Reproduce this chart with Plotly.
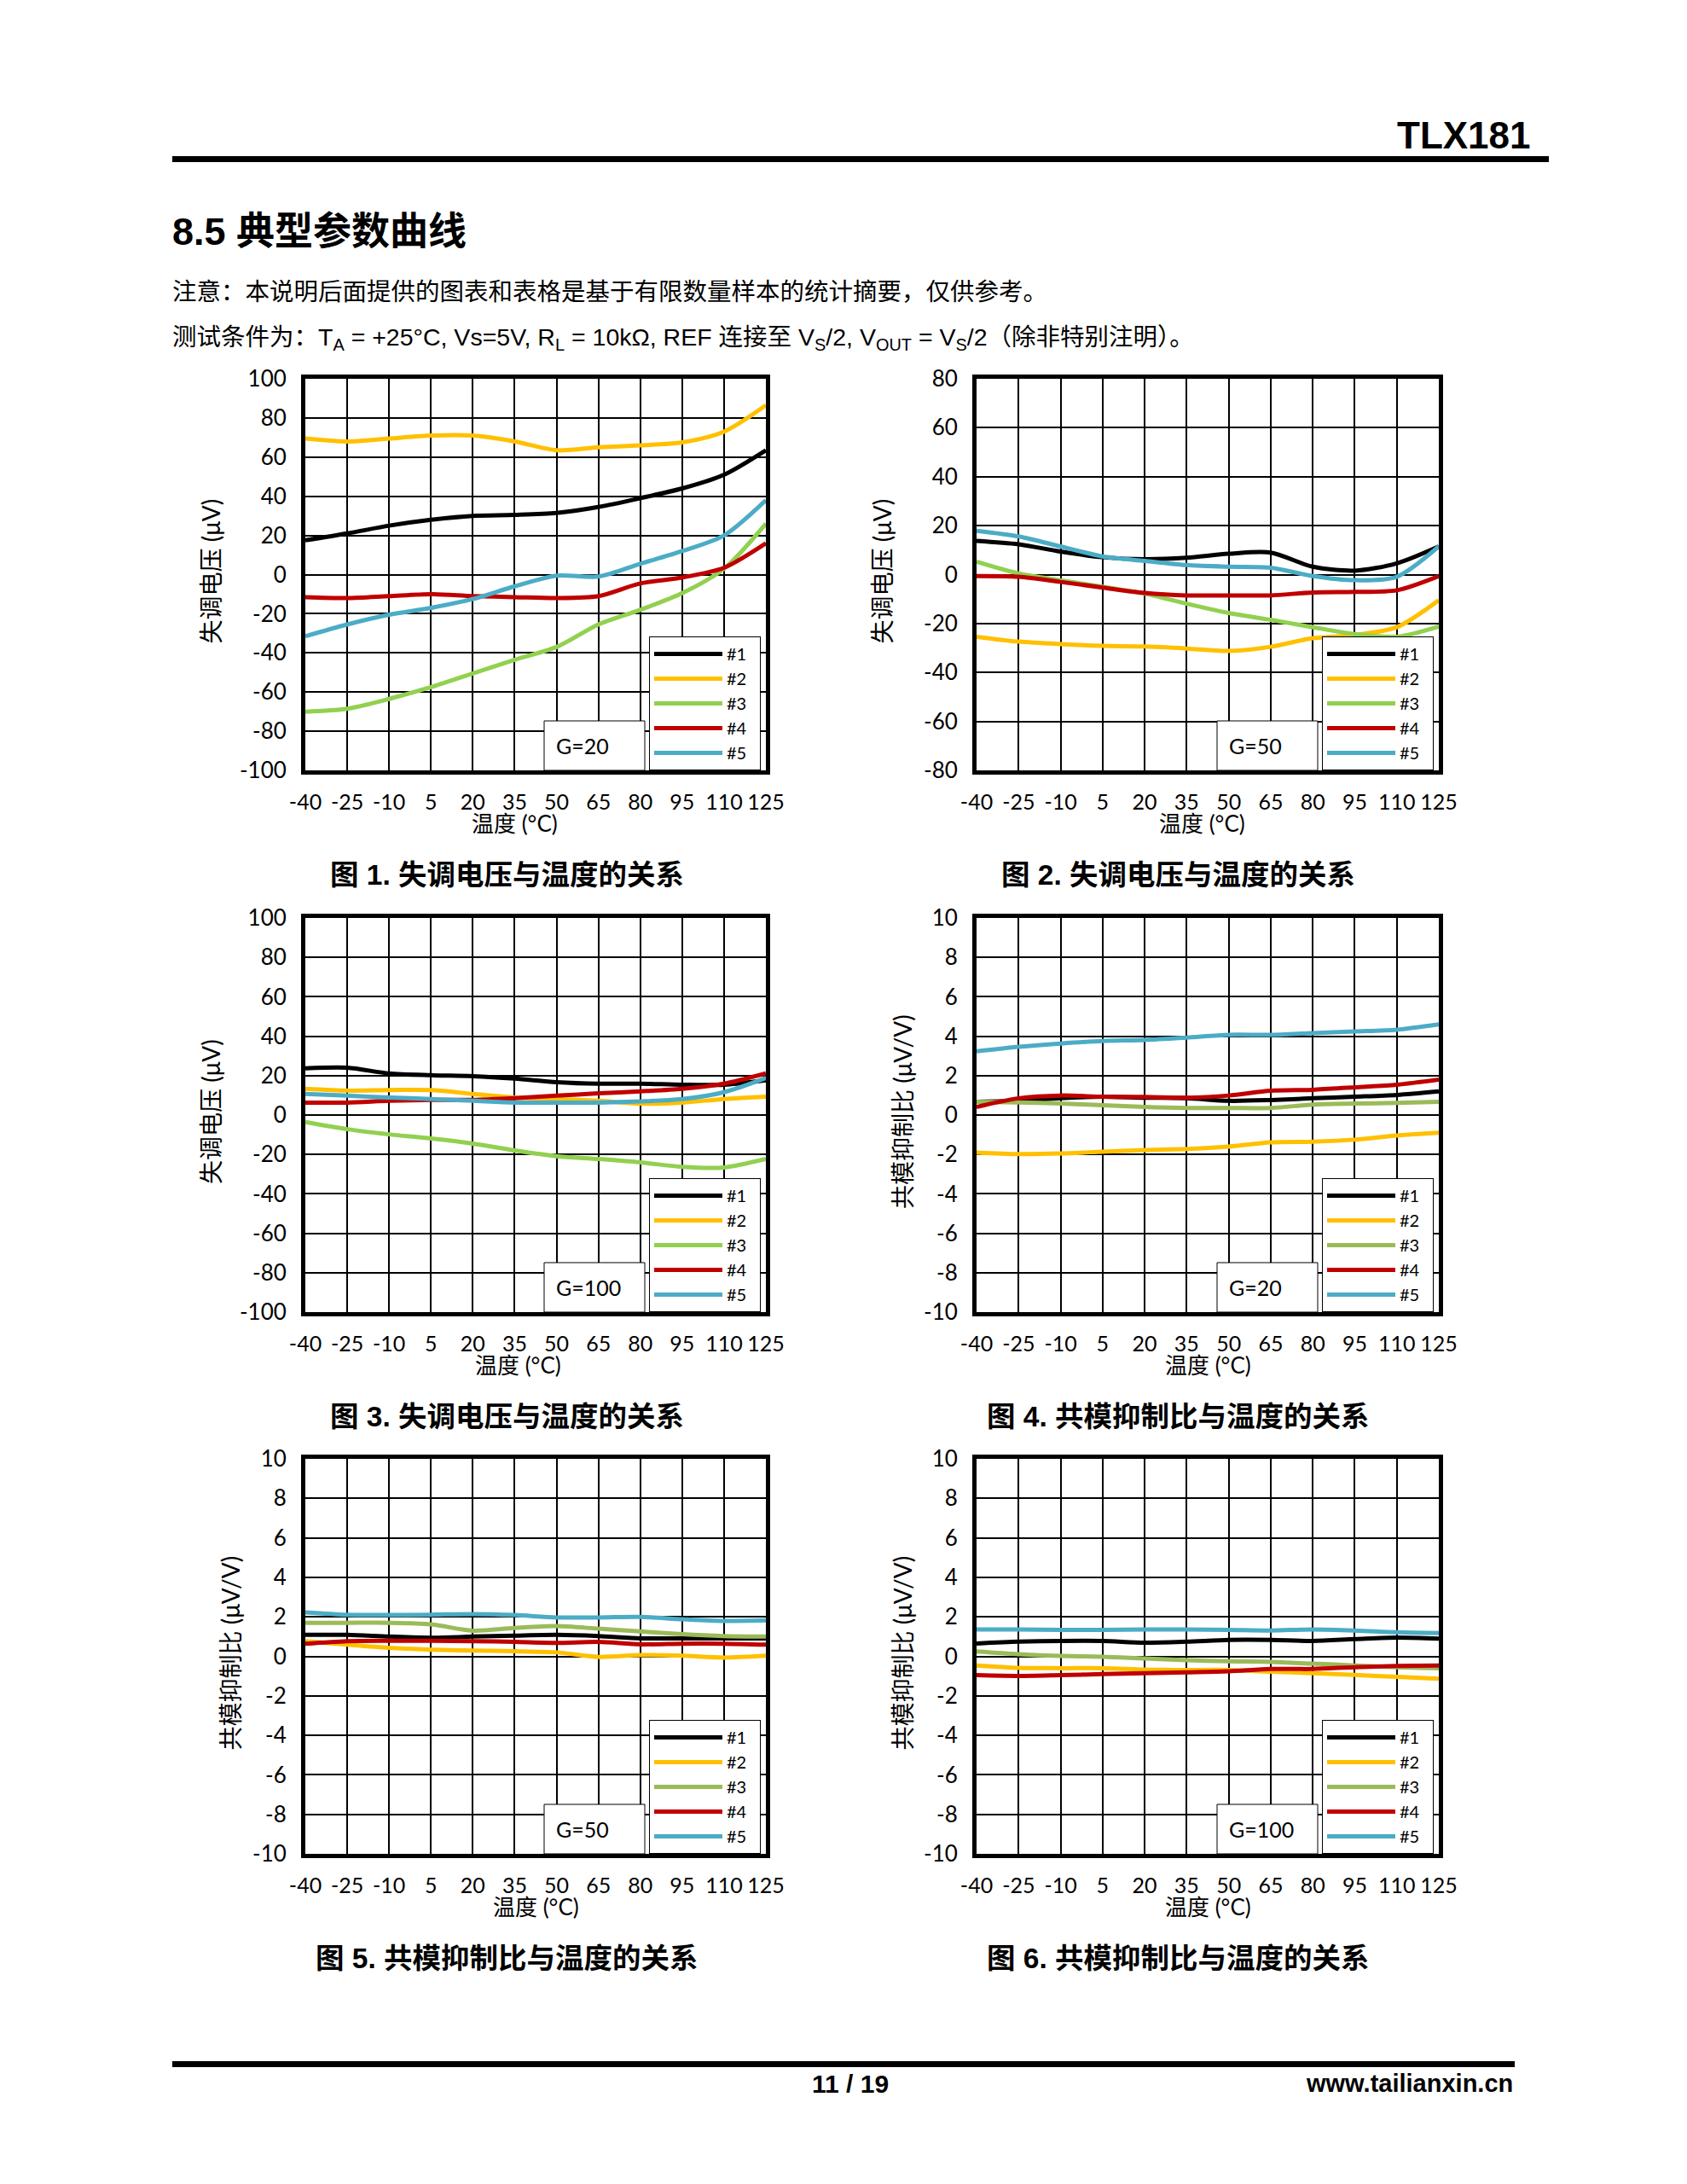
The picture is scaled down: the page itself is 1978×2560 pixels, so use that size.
import plotly.graph_objects as go

# page size of the reference, and the 8px body margin of the html page
W, H = 1978, 2560
OFF = 8
FW, FH = W - 2 * OFF, H - 2 * OFF

# 温度 (°C)
temps = [-40, -25, -10, 5, 20, 35, 50, 65, 80, 95, 110, 125]
samples = ["#1", "#2", "#3", "#4", "#5"]

# 图1 失调电压 G=20 (µV), one list per sample #1..#5
vos_g20 = [
    [17.5, 21, 25, 28, 30, 30.5, 31.5, 34.5, 39, 44, 51, 63.5],
    [69.5, 68, 69.5, 71, 71, 68, 63.5, 65, 66, 67.5, 73, 86.5],
    [-70, -68.5, -63.5, -57.5, -50.5, -43.5, -37, -25.5, -18, -9.5, 3, 26],
    [-11.5, -12, -11, -10, -11, -11.5, -12, -11, -4.5, -1.5, 3.5, 16],
    [-31.5, -25.5, -20.5, -17, -12.5, -6, -0.5, -1, 5.5, 12, 20, 38],
]

# 图2 失调电压 G=50 (µV)
vos_g50 = [
    [13.8, 12.4, 9.4, 7.1, 6.3, 6.9, 8.5, 9, 3.2, 1.6, 4.6, 11.5],
    [-25.4, -27.4, -28.4, -29.1, -29.4, -30.2, -31.2, -29.5, -26, -24.7, -21.5, -10.5],
    [5.3, 0.5, -2.3, -5, -7.8, -11.9, -15.7, -18.5, -21.5, -24.3, -25.4, -21.2],
    [-0.6, -0.9, -3, -5.3, -7.5, -8.5, -8.5, -8.5, -7.3, -7.1, -6.4, -0.6],
    [17.9, 15.6, 11.5, 7.4, 5.6, 3.9, 3.2, 2.8, -0.6, -2.3, -0.9, 11.5],
]

# 图3 失调电压 G=100 (µV)
vos_g100 = [
    [23.7, 24, 21.1, 20.2, 19.7, 18.5, 16.7, 15.9, 15.9, 15.4, 15.4, 17.6],
    [13.3, 12.4, 12.7, 12.7, 10.7, 8.9, 8.1, 7.2, 5.8, 6.3, 8.1, 9.3],
    [-3.6, -7.2, -9.8, -11.9, -14.5, -18, -20.9, -22.3, -24, -26.3, -26.6, -22.3],
    [6.3, 6.3, 7.2, 7.7, 7.7, 8.6, 9.8, 11, 12, 13.3, 15.9, 21.1],
    [10.7, 9.8, 8.9, 8.1, 7.2, 6.3, 6.3, 6.3, 6.9, 8.1, 11.6, 18.8],
]

# 图4 共模抑制比 G=20 (µV/V)
cmrr_g20 = [
    [0.67, 0.72, 0.86, 0.93, 0.88, 0.85, 0.72, 0.76, 0.85, 0.93, 1.02, 1.2],
    [-1.9, -1.98, -1.95, -1.86, -1.77, -1.72, -1.6, -1.39, -1.35, -1.25, -1.04, -0.9],
    [0.67, 0.64, 0.58, 0.5, 0.41, 0.36, 0.36, 0.36, 0.53, 0.58, 0.62, 0.67],
    [0.41, 0.85, 0.99, 0.93, 0.92, 0.88, 0.99, 1.23, 1.28, 1.41, 1.54, 1.8],
    [3.23, 3.46, 3.63, 3.76, 3.81, 3.93, 4.07, 4.07, 4.16, 4.24, 4.33, 4.6],
]

# 图5 共模抑制比 G=50 (µV/V)
cmrr_g50 = [
    [1.09, 1.09, 1.0, 0.94, 1.0, 1.05, 1.09, 1.03, 0.91, 0.91, 0.91, 0.91],
    [0.77, 0.59, 0.43, 0.34, 0.29, 0.26, 0.2, -0.03, 0.06, 0.03, -0.06, 0.03],
    [1.7, 1.7, 1.7, 1.62, 1.3, 1.44, 1.53, 1.4, 1.26, 1.12, 1.03, 1.0],
    [0.64, 0.77, 0.79, 0.79, 0.77, 0.73, 0.68, 0.73, 0.61, 0.64, 0.64, 0.59],
    [2.23, 2.11, 2.09, 2.11, 2.14, 2.09, 1.97, 1.97, 2.0, 1.88, 1.79, 1.82],
]

# 图6 共模抑制比 G=100 (µV/V)
cmrr_g100 = [
    [0.65, 0.74, 0.78, 0.78, 0.69, 0.74, 0.83, 0.83, 0.78, 0.87, 0.95, 0.9],
    [-0.46, -0.58, -0.6, -0.6, -0.67, -0.69, -0.69, -0.78, -0.85, -0.94, -1.04, -1.13],
    [0.25, 0.11, 0.02, -0.02, -0.11, -0.19, -0.25, -0.28, -0.37, -0.46, -0.55, -0.6],
    [-0.95, -0.99, -0.95, -0.9, -0.85, -0.81, -0.76, -0.64, -0.64, -0.55, -0.49, -0.46],
    [1.36, 1.36, 1.34, 1.34, 1.36, 1.36, 1.34, 1.31, 1.36, 1.31, 1.22, 1.18],
]

colors_a = ["#000000", "#FFC000", "#92D050", "#C00000", "#4BACC6"]
colors_b = ["#000000", "#FFC000", "#9BBB59", "#C00000", "#4BACC6"]

LAT = "Lato, Noto Sans CJK SC"
CJK = "Liberation Sans, Noto Sans CJK SC"
NB = "\u00a0"


# page pixel -> paper fraction
def px(x):
    return (x - OFF) / FW


def py(y):
    return 1 - (y - OFF) / FH


# plot boxes in page pixels: left, right, top, bottom
left_col = (358, 898)
right_col = (1145, 1687)
rows = [(444, 903), (1076, 1538), (1710, 2173)]

charts = [
    dict(data=vos_g20, colors=colors_a, rng=(-100, 100), dt=20, gain="G=20",
         ytitle="失调电压 (μV)", caption="图 1. 失调电压与温度的关系",
         col=left_col, row=rows[0], ytx=-111, xtx=-25),
    dict(data=vos_g50, colors=colors_a, rng=(-80, 80), dt=20, gain="G=50",
         ytitle="失调电压 (μV)", caption="图 2. 失调电压与温度的关系",
         col=right_col, row=rows[0], ytx=-111, xtx=-7),
    dict(data=vos_g100, colors=colors_a, rng=(-100, 100), dt=20, gain="G=100",
         ytitle="失调电压 (μV)", caption="图 3. 失调电压与温度的关系",
         col=left_col, row=rows[1], ytx=-111, xtx=-21),
    dict(data=cmrr_g20, colors=colors_b, rng=(-10, 10), dt=2, gain="G=20",
         ytitle="共模抑制比 (μV/V)", caption="图 4. 共模抑制比与温度的关系",
         col=right_col, row=rows[1], ytx=-87, xtx=0),
    dict(data=cmrr_g50, colors=colors_b, rng=(-10, 10), dt=2, gain="G=50",
         ytitle="共模抑制比 (μV/V)", caption="图 5. 共模抑制比与温度的关系",
         col=left_col, row=rows[2], ytx=-89, xtx=0),
    dict(data=cmrr_g100, colors=colors_b, rng=(-10, 10), dt=2, gain="G=100",
         ytitle="共模抑制比 (μV/V)", caption="图 6. 共模抑制比与温度的关系",
         col=right_col, row=rows[2], ytx=-88, xtx=0),
]

fig = go.Figure()
layout = dict(
    width=FW, height=FH, autosize=False,
    margin=dict(l=0, r=0, t=0, b=0, pad=0, autoexpand=False),
    paper_bgcolor="white", plot_bgcolor="white",
    showlegend=True,
)
annotations = []
shapes = []

axis_common = dict(
    showgrid=True, gridcolor="black", gridwidth=2,
    showline=True, linecolor="black", linewidth=5, mirror=True,
    zeroline=False, ticks="", fixedrange=True, automargin=False,
    tickfont=dict(family=LAT, size=25, color="black"),
)

for i, c in enumerate(charts, start=1):
    sfx = "" if i == 1 else str(i)
    (x0, x1), (y0, y1) = c["col"], c["row"]
    lo, hi = c["rng"]
    yticks = list(range(lo, hi + 1, c["dt"]))
    layout["xaxis" + sfx] = dict(
        axis_common, domain=[px(x0), px(x1)], anchor="y" + sfx,
        range=[-40, 125], tickmode="array", tickvals=temps,
        ticktext=[str(t) for t in temps], ticklabelstandoff=11,
    )
    layout["yaxis" + sfx] = dict(
        axis_common, domain=[py(y1), py(y0)], anchor="x" + sfx,
        range=[lo, hi], tickmode="array", tickvals=yticks,
        ticktext=[str(v) for v in yticks], ticklabelstandoff=12,
        tickfont=dict(family=LAT, size=26, color="black"),
    )
    leg = "legend" + sfx
    layout[leg] = dict(
        x=px(x1 - 6), y=py(y1), xanchor="right", yanchor="bottom",
        bgcolor="white", bordercolor="black", borderwidth=1,
        font=dict(family=LAT, size=20, color="black"),
        itemwidth=80, traceorder="normal", tracegroupgap=0,
    )
    for name, ys, col in zip(samples, c["data"], c["colors"]):
        fig.add_trace(go.Scatter(
            x=temps, y=ys, name=name + NB * 2, mode="lines",
            line=dict(color=col, width=5, shape="spline", smoothing=0.8),
            xaxis="x" + sfx, yaxis="y" + sfx, legend=leg, hoverinfo="skip",
        ))

    # gain box left of the legend
    lx = x1 - 6 - 137
    shapes.append(dict(type="rect", xref="paper", yref="paper",
                       x0=px(lx - 117), x1=px(lx + 1), y0=py(y1), y1=py(y1 - 58),
                       line=dict(color="black", width=1), fillcolor="white", layer="above"))
    annotations.append(dict(text=c["gain"], xref="paper", yref="paper",
                            x=px(lx - 105), y=py(y1 - 29), xanchor="left", yanchor="middle",
                            showarrow=False, font=dict(family=LAT, size=25, color="black")))

    # axis titles
    annotations.append(dict(text="温度 (°C)", xref="paper", yref="paper",
                            x=px((x0 + x1) / 2 + c["xtx"]), y=py(y1 + 62),
                            xanchor="center", yanchor="middle", showarrow=False,
                            font=dict(family=LAT, size=26, color="black")))
    annotations.append(dict(text=c["ytitle"], xref="paper", yref="paper",
                            x=px(x0 + c["ytx"]), y=py((y0 + y1) / 2 - 4),
                            xanchor="center", yanchor="middle", textangle=-90,
                            showarrow=False, font=dict(family=LAT, size=28, color="black")))
    # caption
    cx = 594 if x0 < 1000 else 1381
    annotations.append(dict(text="<b>" + c["caption"] + "</b>", xref="paper", yref="paper",
                            x=px(cx), y=py(y1 + 122), xanchor="center", yanchor="middle",
                            showarrow=False, font=dict(family=CJK, size=33.5, color="black")))

# page header / footer
shapes.append(dict(type="rect", xref="paper", yref="paper", x0=px(202), x1=px(1816),
                   y0=py(190), y1=py(183), fillcolor="black", line=dict(width=0)))
shapes.append(dict(type="rect", xref="paper", yref="paper", x0=px(202), x1=px(1776),
                   y0=py(2423), y1=py(2416), fillcolor="black", line=dict(width=0)))

annotations += [
    dict(text="<b>TLX181</b>", x=px(1797), y=py(158), xanchor="right",
         font=dict(family=CJK, size=44, color="black")),
    dict(text="<b>8.5 典型参数曲线</b>", x=px(200), y=py(272), xanchor="left",
         font=dict(family=CJK, size=45, color="black")),
    dict(text="注意：本说明后面提供的图表和表格是基于有限数量样本的统计摘要，仅供参考。",
         x=px(200), y=py(342), xanchor="left",
         font=dict(family=CJK, size=28.5, color="black")),
    dict(text="测试条件为：T<sub>A</sub> = +25°C, Vs=5V, R<sub>L</sub> = 10kΩ, REF 连接至 "
              "V<sub>S</sub>/2, V<sub>OUT</sub> = V<sub>S</sub>/2（除非特别注明）。",
         x=px(200), y=py(397), xanchor="left",
         font=dict(family=CJK, size=28.5, color="black")),
    dict(text="<b>11 / 19</b>", x=px(997), y=py(2442), xanchor="center",
         font=dict(family=CJK, size=30, color="black")),
    dict(text="<b>www.tailianxin.cn</b>", x=px(1776), y=py(2442), xanchor="right",
         font=dict(family=CJK, size=29, color="black")),
]
for a in annotations[-6:]:
    a.update(xref="paper", yref="paper", yanchor="middle", showarrow=False)

layout["annotations"] = annotations
layout["shapes"] = shapes
fig.update_layout(**layout)

fig.write_html("out.html")
